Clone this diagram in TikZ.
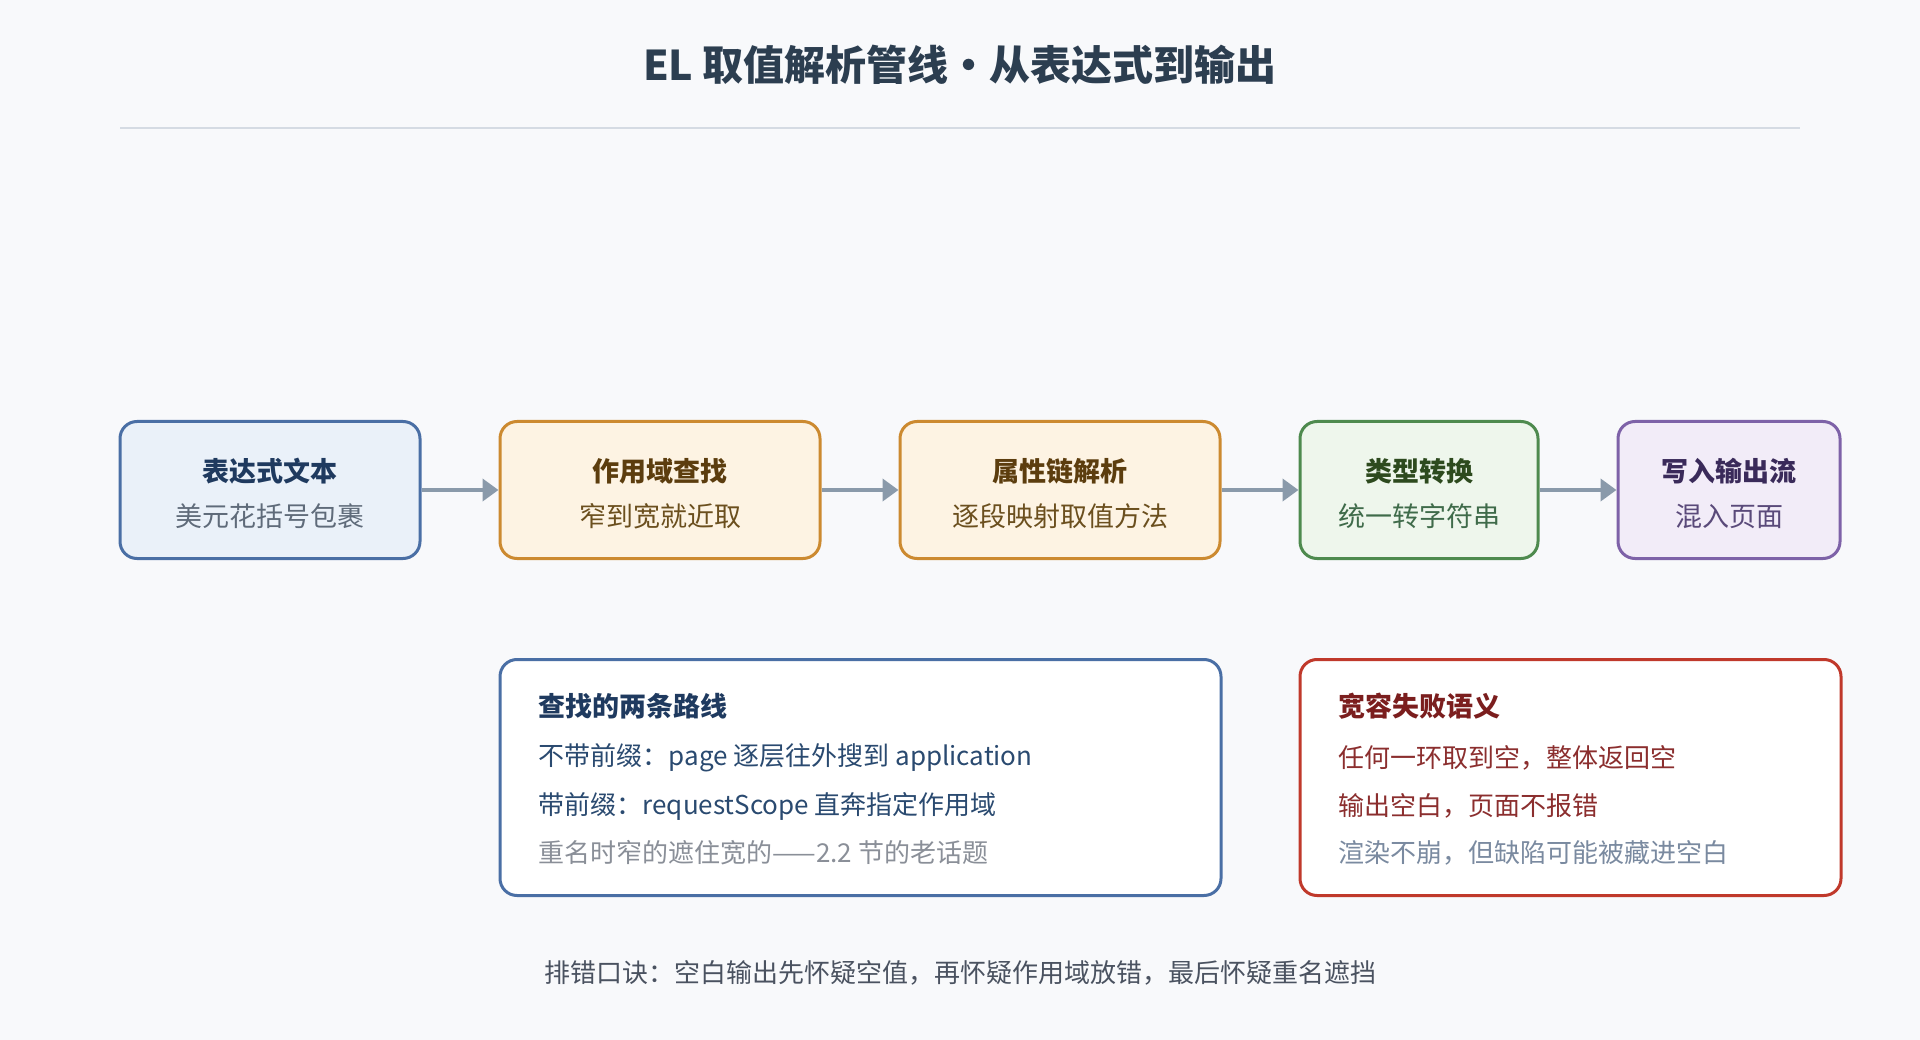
\documentclass[tikz,border=0pt]{standalone}
\usepackage{fontspec}
\newfontfamily\cjk{Noto Sans CJK SC}
\usepackage{xcolor}
\usepackage{tikz}
\usetikzlibrary{arrows.meta}
\usetikzlibrary{positioning}
\definecolor{pagebg}{HTML}{F8F9FB}
\definecolor{titleink}{HTML}{2C3E50}
\definecolor{rulegray}{HTML}{D5DBE3}
\definecolor{flowgray}{HTML}{8A9AAA}
\definecolor{blueedge}{HTML}{4A6FA5}
\definecolor{bluefill}{HTML}{EAF1F9}
\definecolor{bluehead}{HTML}{1F3A5F}
\definecolor{bluesub}{HTML}{5F6B7A}
\definecolor{bluetext}{HTML}{2A4A70}
\definecolor{orgedge}{HTML}{CC8A30}
\definecolor{orgfill}{HTML}{FDF3E3}
\definecolor{orghead}{HTML}{5C3D0E}
\definecolor{orgsub}{HTML}{6B4F1E}
\definecolor{grnedge}{HTML}{4E8A4E}
\definecolor{grnfill}{HTML}{EEF6EC}
\definecolor{grnhead}{HTML}{2D4A1E}
\definecolor{grnsub}{HTML}{3F6B4A}
\definecolor{purpedge}{HTML}{7E62A8}
\definecolor{purpfill}{HTML}{F2ECF8}
\definecolor{purphead}{HTML}{3A2A5A}
\definecolor{purpsub}{HTML}{5A4A7A}
\definecolor{rededge}{HTML}{C0392B}
\definecolor{redhead}{HTML}{7B1E1E}
\definecolor{redtext}{HTML}{8B2E2E}
\definecolor{softgray}{HTML}{8A8F98}
\definecolor{softblue}{HTML}{7A8AA0}
\definecolor{footink}{HTML}{4A5260}
\tikzset{
  stage/.style = {draw, rounded corners=17pt, line width=3pt,
    minimum height=137pt, inner sep=0pt},% etape du pipeline
  note/.style = {draw, fill=white, rounded corners=17pt, line width=3pt,
    inner sep=0pt},% encadre du bas
  head/.style = {inner sep=0pt, font=\cjk\bfseries\fontsize{27pt}{30pt}\selectfont},% titre
  sub/.style = {inner sep=0pt, font=\cjk\fontsize{27pt}{30pt}\selectfont},% sous-titre
  line/.style = {inner sep=0pt, anchor=west, font=\cjk\fontsize{26pt}{30pt}\selectfont},% ligne de texte
  flow/.style = {draw=flowgray, line width=4pt,
    -{Triangle[length=16pt,width=22pt]}}% fleche
}

\begin{document}
\begin{tikzpicture}[x=1pt,y=-1pt]
\useasboundingbox[fill=pagebg] (0,0) rectangle (1920,1040);

\node [inner sep=0pt, titleink, font=\cjk\bfseries\fontsize{41pt}{46pt}\selectfont] (title) at (960,65)
  {EL 取值解析管线・从表达式到输出};
\coordinate (ruleL) at (120,128);
\coordinate (ruleR) at (1800,128);
\draw [rulegray, line width=2pt] (ruleL) -- (ruleR);

\node [stage, draw=blueedge, fill=bluefill, minimum width=300pt] (expr) at (270,490) {};
\node [stage, draw=orgedge, fill=orgfill, minimum width=320pt, right=77pt of expr] (scope) {};
\node [stage, draw=orgedge, fill=orgfill, minimum width=320pt, right=77pt of scope] (chain) {};
\node [stage, draw=grnedge, fill=grnfill, minimum width=238pt, right=77pt of chain] (conv) {};
\node [stage, draw=purpedge, fill=purpfill, minimum width=222pt, right=77pt of conv] (write) {};

\node at (expr) [head, bluehead, yshift=19pt] (exprT) {表达式文本};
\node at (expr) [sub, bluesub, yshift=-26pt] (exprS) {美元花括号包裹};
\node at (scope) [head, orghead, yshift=19pt] (scopeT) {作用域查找};
\node at (scope) [sub, orgsub, yshift=-26pt] (scopeS) {窄到宽就近取};
\node at (chain) [head, orghead, yshift=19pt] (chainT) {属性链解析};
\node at (chain) [sub, orgsub, yshift=-26pt] (chainS) {逐段映射取值方法};
\node at (conv) [head, grnhead, yshift=19pt] (convT) {类型转换};
\node at (conv) [sub, grnsub, yshift=-26pt] (convS) {统一转字符串};
\node at (write) [head, purphead, yshift=19pt] (writeT) {写入输出流};
\node at (write) [sub, purpsub, yshift=-26pt] (writeS) {混入页面};

\draw [flow] (expr) -- (scope);
\draw [flow] (scope) -- (chain);
\draw [flow] (chain) -- (conv);
\draw [flow] (conv) -- (write);

\node [note, draw=blueedge, minimum width=721pt, minimum height=236pt,
  below=98pt of scope.south west, anchor=north west] (lookup) {};
\node [note, draw=rededge, minimum width=541pt, minimum height=236pt,
  below=98pt of conv.south west, anchor=north west] (lenient) {};

\node at ([xshift=40pt,yshift=-48pt]lookup.north west) [line, head, bluehead] (lookT) {查找的两条路线};
\node at ([xshift=40pt,yshift=-100pt]lookup.north west) [line, bluetext] (look1) {不带前缀：page 逐层往外搜到 application};
\node at ([xshift=40pt,yshift=-148pt]lookup.north west) [line, bluetext] (look2) {带前缀：requestScope 直奔指定作用域};
\node at ([xshift=40pt,yshift=-195pt]lookup.north west) [line, softgray] (look3) {重名时窄的遮住宽的——2.2 节的老话题};

\node at ([xshift=40pt,yshift=-48pt]lenient.north west) [line, head, redhead] (lenT) {宽容失败语义};
\node at ([xshift=40pt,yshift=-100pt]lenient.north west) [line, redtext] (len1) {任何一环取到空，整体返回空};
\node at ([xshift=40pt,yshift=-148pt]lenient.north west) [line, redtext] (len2) {输出空白，页面不报错};
\node at ([xshift=40pt,yshift=-195pt]lenient.north west) [line, softblue] (len3) {渲染不崩，但缺陷可能被藏进空白};

\node [inner sep=0pt, footink, font=\cjk\fontsize{26pt}{30pt}\selectfont] (foot) at (960,973)
  {排错口诀：空白输出先怀疑空值，再怀疑作用域放错，最后怀疑重名遮挡};
\end{tikzpicture}
\end{document}
